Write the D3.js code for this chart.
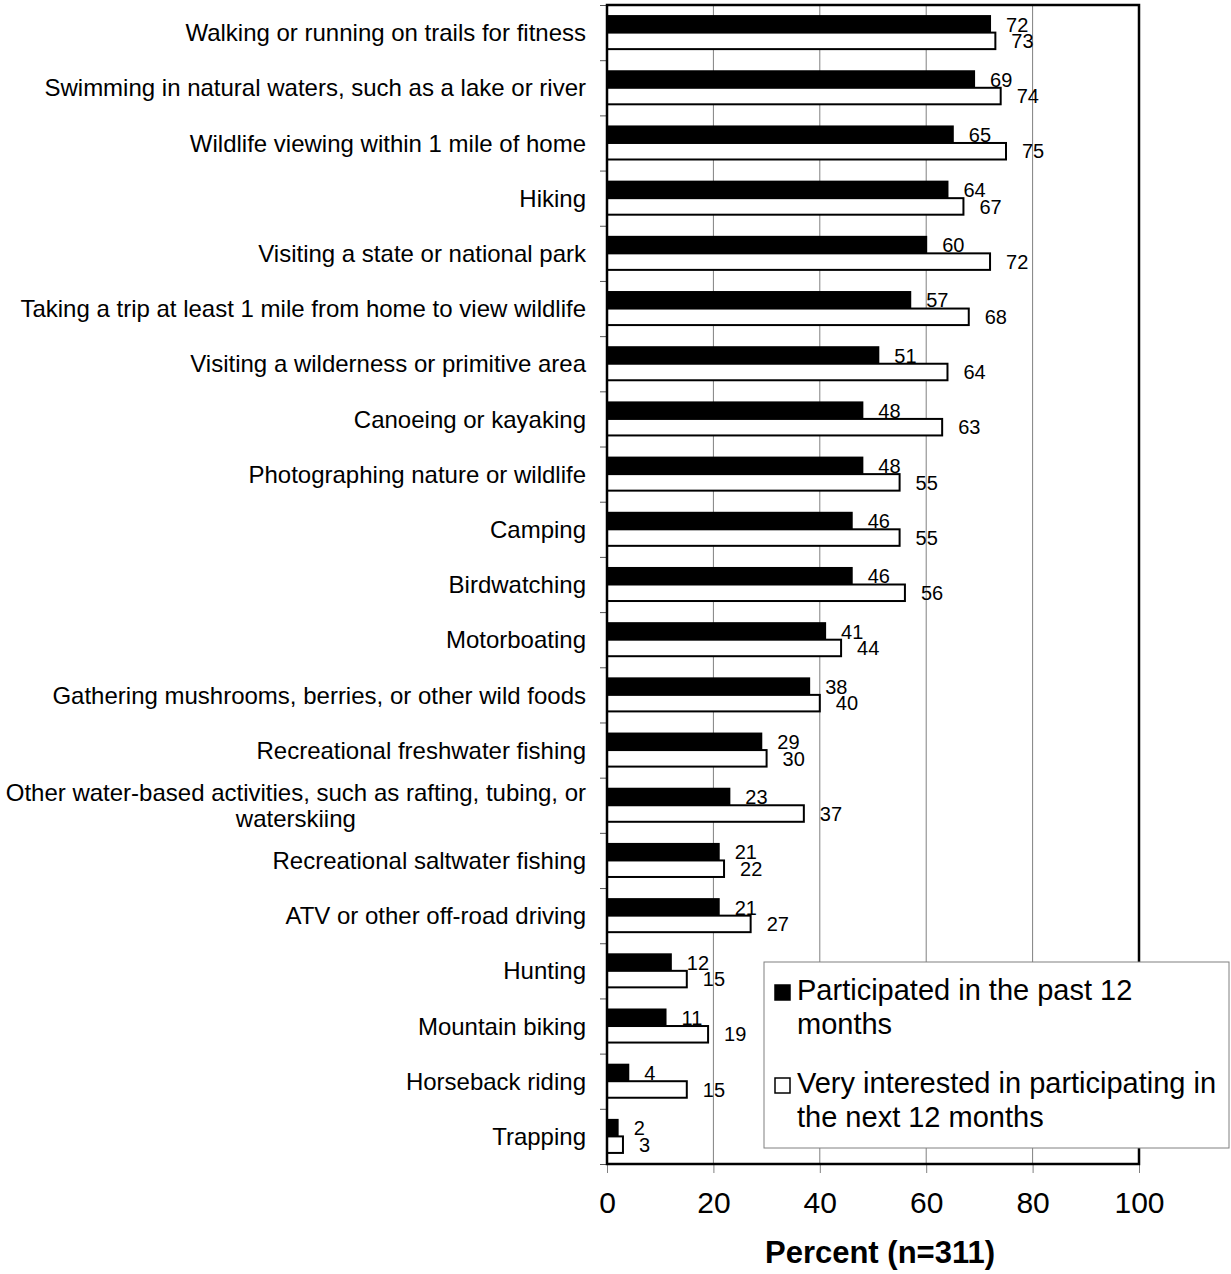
<!DOCTYPE html>
<html>
<head>
<meta charset="utf-8">
<script src="https://cdn.jsdelivr.net/npm/d3@7"></script>
<style>
  body { margin: 0; background: #fff; }
  svg { display: block; font-family: 'Liberation Sans', Arial, sans-serif; }
</style>
</head>
<body>
<div id="chart"><svg width="1231" height="1274"></svg></div>
<script>
const CATEGORIES = [
  'Walking or running on trails for fitness',
  'Swimming in natural waters, such as a lake or river',
  'Wildlife viewing within 1 mile of home',
  'Hiking',
  'Visiting a state or national park',
  'Taking a trip at least 1 mile from home to view wildlife',
  'Visiting a wilderness or primitive area',
  'Canoeing or kayaking',
  'Photographing nature or wildlife',
  'Camping',
  'Birdwatching',
  'Motorboating',
  'Gathering mushrooms, berries, or other wild foods',
  'Recreational freshwater fishing',
  'Other water-based activities, such as rafting, tubing, or\nwaterskiing',
  'Recreational saltwater fishing',
  'ATV or other off-road driving',
  'Hunting',
  'Mountain biking',
  'Horseback riding',
  'Trapping',
];
const PARTICIPATED = [72, 69, 65, 64, 60, 57, 51, 48, 48, 46, 46, 41, 38, 29, 23, 21, 21, 12, 11, 4, 2];
const INTERESTED = [73, 74, 75, 67, 72, 68, 64, 63, 55, 55, 56, 44, 40, 30, 37, 22, 27, 15, 19, 15, 3];
const SERIES = ['Participated in the past 12\nmonths', 'Very interested in participating in\nthe next 12 months'];
const X_TICKS = [0, 20, 40, 60, 80, 100];
const X_TITLE = 'Percent (n=311)';

const SVG = d3.select('#chart svg');

const LEFT = 607;
const RIGHT = 1139;
const TOP = 5;
const BOTTOM = 1164;

const data = CATEGORIES.map((c, i) => ({
  name: c,
  values: [PARTICIPATED[i], INTERESTED[i]],
}));

const X_SCALE = d3.scaleLinear().domain([0, 100]).range([LEFT, RIGHT]);
const Y_SCALE = d3.scaleBand().domain(d3.range(CATEGORIES.length)).range([TOP, BOTTOM]);
const INNER = d3
  .scaleBand()
  .domain([0, 1])
  .range([0, Y_SCALE.bandwidth()])
  .paddingOuter(0.67);

// gridlines
SVG.append('g')
  .attr('id', 'grid')
  .selectAll('line')
  .data(X_TICKS.slice(1, -1))
  .join('line')
  .attr('x1', (d) => X_SCALE(d))
  .attr('x2', (d) => X_SCALE(d))
  .attr('y1', TOP)
  .attr('y2', BOTTOM)
  .style('stroke', '#808080')
  .style('stroke-width', 1);

// x axis
const X_AXIS = d3.axisBottom(X_SCALE).tickValues(X_TICKS).tickSize(9).tickPadding(19);
const X_AXIS_GROUP = SVG.append('g')
  .attr('id', 'xAxis')
  .attr('transform', `translate(0,${BOTTOM})`);
X_AXIS(X_AXIS_GROUP);
X_AXIS_GROUP.select('.domain').remove();
X_AXIS_GROUP.selectAll('line').style('stroke', '#808080');
X_AXIS_GROUP.selectAll('text')
  .style('font-size', '30px')
  .style('font-family', "'Liberation Sans', Arial, sans-serif")
  .style('fill', '#000');

// y axis ticks sit on the band edges
const Y_EDGE = d3.scaleLinear().domain([0, CATEGORIES.length]).range([TOP, BOTTOM]);
const Y_AXIS = d3.axisLeft(Y_EDGE).tickValues(d3.range(CATEGORIES.length + 1)).tickSize(7).tickFormat('');
const Y_AXIS_GROUP = SVG.append('g')
  .attr('id', 'yAxis')
  .attr('transform', `translate(${LEFT},0)`);
Y_AXIS(Y_AXIS_GROUP);
Y_AXIS_GROUP.select('.domain').remove();
Y_AXIS_GROUP.selectAll('line').style('stroke', '#555');

// bars
const GROUPS = SVG.append('g')
  .attr('id', 'bars')
  .selectAll('g')
  .data(data)
  .join('g')
  .attr('transform', (d, i) => `translate(0,${Y_SCALE(i)})`);

GROUPS.selectAll('rect')
  .data((d) => d.values)
  .join('rect')
  .attr('x', X_SCALE(0))
  .attr('y', (d, i) => INNER(i))
  .attr('width', (d) => X_SCALE(d) - X_SCALE(0))
  .attr('height', INNER.bandwidth())
  .style('fill', (d, i) => (i === 0 ? '#000' : '#fff'))
  .style('stroke', '#000')
  .style('stroke-width', 2);

GROUPS.selectAll('text')
  .data((d) => d.values)
  .join('text')
  .attr('x', (d) => X_SCALE(d) + 16)
  .attr('y', (d, i) => INNER(i) + INNER.bandwidth() / 2)
  .attr('dy', '0.36em')
  .style('font-size', '20px')
  .style('fill', '#000')
  .text((d) => d);

// plot frame
SVG.append('rect')
  .attr('x', LEFT)
  .attr('y', TOP)
  .attr('width', RIGHT - LEFT)
  .attr('height', BOTTOM - TOP)
  .style('fill', 'none')
  .style('stroke', '#000')
  .style('stroke-width', 2.5);

// category labels
const LABELS = SVG.append('g')
  .attr('id', 'labels')
  .selectAll('text')
  .data(data)
  .join('text')
  .style('font-size', '24px')
  .style('fill', '#000')
  .style('text-anchor', 'end')
  .attr('transform', (d, i) => `translate(586,${Y_SCALE(i) + Y_SCALE.bandwidth() / 2})`);

LABELS.each((d, i, n) => {
  const lines = d.name.split('\n');
  const t = d3.select(n[i]);
  if (lines.length === 1) {
    t.append('tspan').attr('x', 0).attr('dy', '0.36em').text(lines[0]);
    return;
  }
  // multi-line labels are centred on the widest line
  t.style('text-anchor', 'middle');
  const tmp = t.append('tspan').text(lines[0]);
  const w = tmp.node().getComputedTextLength();
  tmp.remove();
  lines.forEach((line, k) => {
    t.append('tspan')
      .attr('x', -w / 2)
      .attr('y', (k - (lines.length - 1) / 2) * 26)
      .attr('dy', '0.36em')
      .text(line);
  });
});

// x title
SVG.append('text')
  .attr('x', 880)
  .attr('y', 1263)
  .style('text-anchor', 'middle')
  .style('font-size', '31px')
  .style('font-weight', 'bold')
  .text(X_TITLE);

// legend
const LEGEND = SVG.append('g').attr('id', 'legend');
LEGEND.append('rect')
  .attr('x', 764)
  .attr('y', 962)
  .attr('width', 465)
  .attr('height', 186)
  .style('fill', '#fff')
  .style('stroke', '#808080')
  .style('stroke-width', 1);

const LEGEND_ITEMS = LEGEND.selectAll('g.item')
  .data(SERIES)
  .join('g')
  .attr('class', 'item')
  .attr('transform', (d, i) => `translate(775,${1000 + i * 93})`);

LEGEND_ITEMS.append('rect')
  .attr('x', 0)
  .attr('y', -15)
  .attr('width', 15)
  .attr('height', 15)
  .style('fill', (d, i) => (i === 0 ? '#000' : '#fff'))
  .style('stroke', '#000')
  .style('stroke-width', 1.5);

LEGEND_ITEMS.append('text')
  .style('font-size', '29px')
  .style('fill', '#000')
  .each((d, i, n) => {
    d.split('\n').forEach((line, k) => {
      d3.select(n[i])
        .append('tspan')
        .attr('x', 22)
        .attr('y', k * 34)
        .text(line);
    });
  });
</script>
</body>
</html>
